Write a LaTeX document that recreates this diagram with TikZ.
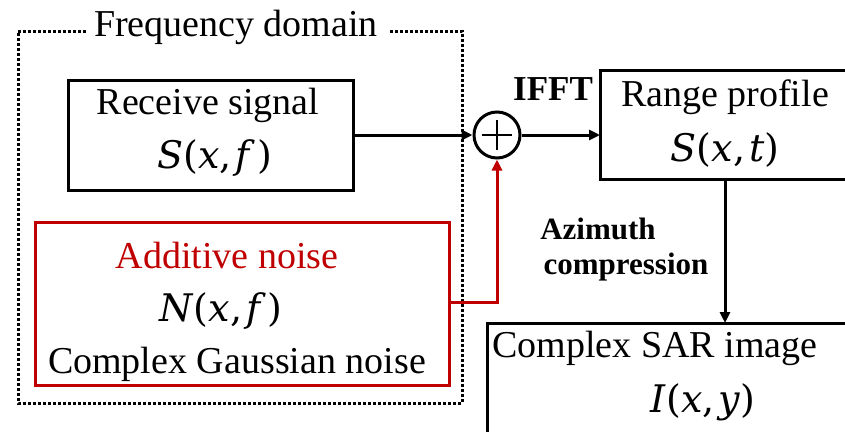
\documentclass[tikz,border=0pt]{standalone}
\usepackage{fontspec}
\setmainfont{Liberation Serif}
\newfontfamily\mathlike{DejaVu Serif}
\usetikzlibrary{arrows.meta}
\definecolor{nred}{HTML}{C00000}
\newcommand{\mv}[1]{\textit{#1}}
\tikzset{
  box/.style={draw, line width=3pt},
  lbl/.style={font=\fontsize{38}{40}\selectfont, inner sep=0pt, anchor=center},
  mlbl/.style={font=\mathlike\fontsize{38}{40}\selectfont, inner sep=0pt, anchor=center},
  blbl/.style={font=\fontsize{31}{34}\selectfont\bfseries, inner sep=0pt, anchor=center},
  conn/.style={line width=3pt, -{Triangle[length=11pt,width=10pt]}},
}
\begin{document}
\begin{tikzpicture}[x=1pt,y=-1pt]
\useasboundingbox (0,0) rectangle (845,431);
% frequency domain dotted frame
\node[lbl] (fd) at (236,27) {Frequency domain};
\draw[line width=3pt, dotted] (86,31) -- (18,31) -- (18,403) -- (462,403) -- (462,31) -- (390,31);
% receive signal
\node[box, minimum width=285pt, minimum height=110pt, inner sep=0pt] (rs) at (210.5,135) {};
\node[lbl] (rst) at (208,105) {Receive signal};
\node[mlbl] (rsm) at (215,158) {\mv{S}(\mv{x},\hspace{4pt}\mv{f}\hspace{2pt})};
% additive noise
\node[draw=nred, line width=3pt, minimum width=414pt, minimum height=163pt, inner sep=0pt] (an) at (242,303.5) {};
\node[lbl, text=nred] (ant) at (227,255) {Additive noise};
\node[mlbl] (anm) at (221,311) {\mv{N}(\mv{x},\hspace{4pt}\mv{f}\hspace{2pt})};
\node[lbl] (ang) at (237,364) {Complex Gaussian noise};
% sum circle
\node[draw, circle, line width=3pt, minimum size=46pt, inner sep=0pt] (sum) at (497,135) {};
\draw[line width=1.5pt] (sum.center) ++(-15,0) -- ++(30,0);
\draw[line width=1.5pt] (sum.center) ++(0,-15) -- ++(0,30);
% range profile (right edge cut off)
\coordinate (rpl) at (600,135);
\draw[line width=3pt] (850,70) -- (600,70) -- (600,179) -- (850,179);
\node[lbl] (rpt) at (725,97) {Range profile};
\node[mlbl] (rpm) at (725,150) {\mv{S}(\mv{x},\hspace{4pt}\mv{t})};
\node[blbl, font=\fontsize{35}{38}\selectfont\bfseries] (ifft) at (553,89) {IFFT};
% SAR image (cut off)
\coordinate (sartop) at (725,323);
\coordinate (rpb) at (725,179);
\draw[line width=3pt] (487,440) -- (487,323) -- (850,323);
\node[lbl] (sart) at (655,348) {Complex SAR image};
\node[mlbl] (sarm) at (703,402) {\mv{I}(\mv{x},\hspace{4pt}\mv{y})};
% azimuth
\node[blbl] (az1) at (598,229) {Azimuth};
\node[blbl] (az2) at (626,267) {compression};
% connectors
\draw[conn] (rs.east) -- (sum.west);
\draw[conn] (sum.east) -- (rpl);
\draw[conn] (rpb) -- (sartop);
\coordinate (rc) at (497,302);
\draw[conn, nred] (an.east |- rc) -- (rc) -- (sum.south);
\end{tikzpicture}
\end{document}
